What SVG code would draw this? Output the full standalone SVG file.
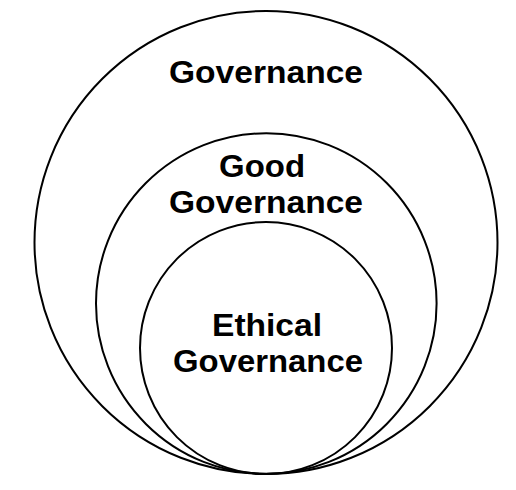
<svg xmlns="http://www.w3.org/2000/svg" width="516" height="490" viewBox="0 0 516 490">
<style>
.c{fill:none;stroke:#000;stroke-width:2}
.t{font-family:"Liberation Sans",Arial,sans-serif;font-weight:bold;font-size:32px;fill:#000;text-anchor:middle}
</style>
<rect width="516" height="490" fill="#fff"/>
<g id="governance">
<circle class="c" cx="266" cy="242.5" r="231.5"/>
<text class="t" x="266" y="83" textLength="194" lengthAdjust="spacingAndGlyphs">Governance</text>
</g>
<g id="good-governance">
<circle class="c" cx="266.3" cy="303.5" r="170.3"/>
<text class="t" x="262" y="177" textLength="86" lengthAdjust="spacingAndGlyphs">Good</text>
<text class="t" x="266" y="213" textLength="194" lengthAdjust="spacingAndGlyphs">Governance</text>
</g>
<g id="ethical-governance">
<circle class="c" cx="266" cy="348" r="126"/>
<text class="t" x="267" y="336" textLength="110" lengthAdjust="spacingAndGlyphs">Ethical</text>
<text class="t" x="268" y="372" textLength="190" lengthAdjust="spacingAndGlyphs">Governance</text>
</g>
<g id="connectors"/>
</svg>
